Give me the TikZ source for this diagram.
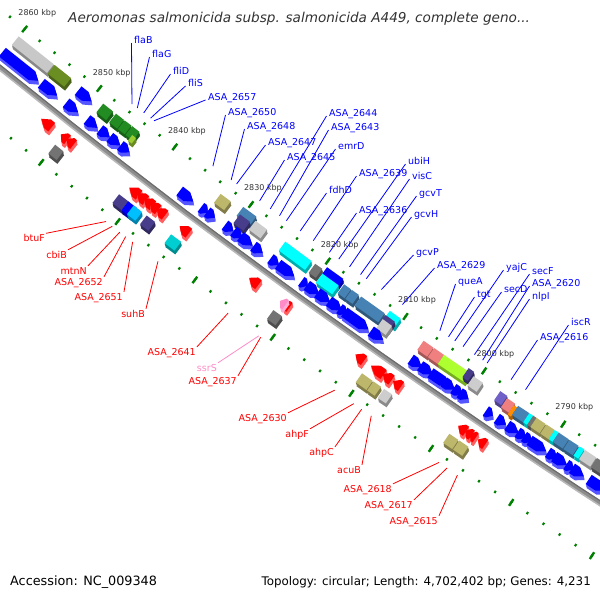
\documentclass[tikz,border=0pt]{standalone}
\usepackage{fontspec}
\setmainfont{DejaVu Sans}
\definecolor{fb}{RGB}{0,0,255}
\definecolor{fbs}{RGB}{85,85,255}
\definecolor{fr}{RGB}{255,0,0}
\definecolor{frs}{RGB}{255,95,95}
\definecolor{tk}{RGB}{0,128,0}
\definecolor{cgray}{RGB}{200,200,200}
\definecolor{colive}{RGB}{107,142,35}
\definecolor{cgreen}{RGB}{34,139,34}
\definecolor{cygreen}{RGB}{154,205,50}
\definecolor{ckhaki}{RGB}{189,183,107}
\definecolor{csteel}{RGB}{70,130,180}
\definecolor{cslate}{RGB}{72,61,139}
\definecolor{clgray}{RGB}{205,205,205}
\definecolor{ccyan}{RGB}{0,255,255}
\definecolor{cdgray}{RGB}{115,115,115}
\definecolor{ccoral}{RGB}{240,128,128}
\definecolor{cgy}{RGB}{173,255,47}
\definecolor{cmslate}{RGB}{112,96,200}
\definecolor{corange}{RGB}{255,140,0}
\definecolor{cdsky}{RGB}{0,191,255}
\definecolor{cdturq}{RGB}{0,206,209}
\definecolor{cpink}{RGB}{255,140,200}
\definecolor{txt}{RGB}{51,51,51}
\definecolor{bbc}{RGB}{140,140,140}
\newcommand\gAng[1]{(123.61+(#1-2790)*0.076557)}
\newcommand\gBox[5][5.5]{%
  \foreach \sh in {1.3,2.6,3.9}{%
    \fill[#5!68!black,shift={(0.2*\sh,\sh)}] ({\gAng{#2}}:{#4-#1}) -- ({\gAng{#3}}:{#4-#1}) -- ({\gAng{#3}}:{#4+#1}) -- ({\gAng{#2}}:{#4+#1}) -- cycle;}%
  \fill[#5] ({\gAng{#2}}:{#4-#1}) -- ({\gAng{#3}}:{#4-#1}) -- ({\gAng{#3}}:{#4+#1}) -- ({\gAng{#2}}:{#4+#1}) -- cycle;%
}
\newcommand\gArr[6][5.5]{%
  \pgfmathsetmacro\gAd{#3-(#2)}%
  \pgfmathsetmacro\gAt{min(0.85,0.6*abs(\gAd))*ifthenelse(\gAd>0,1,-1)}%
  \pgfmathsetmacro\gAk{#3-(\gAt)}%
  \foreach \sh in {1.3,2.6,3.9}{%
    \fill[#6,shift={(0.2*\sh,\sh)}] ({\gAng{#2}}:{#4-#1}) -- ({\gAng{\gAk}}:{#4-#1}) -- ({\gAng{#3}}:{#4}) -- ({\gAng{\gAk}}:{#4+#1}) -- ({\gAng{#2}}:{#4+#1}) -- cycle;}%
  \fill[#5] ({\gAng{#2}}:{#4-#1}) -- ({\gAng{\gAk}}:{#4-#1}) -- ({\gAng{#3}}:{#4}) -- ({\gAng{\gAk}}:{#4+#1}) -- ({\gAng{#2}}:{#4+#1}) -- cycle;%
}
\newcommand\bArr[2]{\gArr{#1}{#2}{7177}{fb}{fbs}}
\newcommand\rArr[2]{\gArr{#1}{#2}{7205}{fr}{frs}}
\tikzset{
  blt/.style={text=fb, font=\fontsize{9.5}{11}\selectfont, inner sep=1pt, text height=7pt, text depth=2pt},
  rdt/.style={text=fr, font=\fontsize{9.5}{11}\selectfont, inner sep=1pt, text height=7pt, text depth=2pt},
  pkt/.style={text=cpink, font=\fontsize{9.5}{11}\selectfont, inner sep=1pt, text height=7pt, text depth=2pt},
  bll/.style={draw=fb, line width=0.8pt},
  rdl/.style={draw=fr, line width=0.8pt},
  pkl/.style={draw=cpink, line width=0.8pt},
  kbp/.style={text=txt, font=\fontsize{8}{9}\selectfont, inner sep=0pt},
}
\begin{document}
\begin{tikzpicture}[x=1pt,y=-1pt]
\useasboundingbox (0,0) rectangle (600,600);
\fill[white] (0,0) rectangle (600,600);
\begin{scope}
\clip (0,0) rectangle (600,600);
\begin{scope}[shift={(4518,-5526)}]
% backbone
\draw[line width=5pt, bbc] ({\gAng{2870}}:7190.5) \foreach \q in {2865,2860,...,2770}{ -- ({\gAng{\q}}:7190.5)};
\draw[line width=1.6pt, black!28] ({\gAng{2870}}:7192.8) \foreach \q in {2865,2860,...,2770}{ -- ({\gAng{\q}}:7192.8)};
\draw[line width=1.1pt, black!58] ({\gAng{2870}}:7188.6) \foreach \q in {2865,2860,...,2770}{ -- ({\gAng{\q}}:7188.6)};
% tick rows
\foreach \q in {2776,2778,...,2866}{
  \draw[tk,line width=2.1pt] ({\gAng{\q}}:7143.7) -- ({\gAng{\q}}:7146.3);
  \draw[tk,line width=2.1pt] ({\gAng{\q}}:7237.7) -- ({\gAng{\q}}:7240.3);
}
\foreach \q in {2780,2790,...,2860}{
  \draw[tk,line width=2.4pt] ({\gAng{\q}}:7141) -- ({\gAng{\q}}:7149);
  \draw[tk,line width=2.4pt] ({\gAng{\q}}:7235) -- ({\gAng{\q}}:7243);
}
\foreach \q in {2790,2800,...,2860}{
  \node[kbp] (k\q) at ({\gAng{\q}}:7125) {\q\ kbp};
}
% inner boxes track
\gBox{2860.0}{2855.3}{7160}{cgray}
\gBox{2855.2}{2853.0}{7160}{colive}
\gArr{2851.6}{2849.8}{7160}{fb}{fbs}
\gBox{2848.7}{2847.4}{7160}{cgreen}
\gBox{2847.0}{2845.95}{7160}{cgreen}
\gBox{2845.85}{2844.95}{7160}{cgreen}
\gBox{2844.85}{2843.9}{7160}{cgreen}
\gBox[3.5]{2844.3}{2843.8}{7165}{cygreen}
\gBox{2833.2}{2831.9}{7160}{ckhaki}
\gBox{2830.5}{2828.8}{7157}{csteel}
\gBox{2830.3}{2829.0}{7165}{cslate}
\gBox{2828.6}{2827.1}{7161}{clgray}
\gBox{2824.8}{2821.4}{7160}{ccyan}
\gBox{2820.9}{2820.0}{7160}{cdgray}
\gBox{2819.7}{2817.6}{7156}{fb}
\gBox{2819.7}{2817.6}{7164}{ccyan}
\gBox{2817.2}{2816.3}{7160}{csteel}
\gBox{2816.2}{2815.3}{7160}{csteel}
\gBox{2815.0}{2812.0}{7160}{csteel}
\gBox{2811.7}{2810.3}{7155}{ccyan}
\gBox{2811.8}{2810.6}{7161}{cslate}
\gBox{2811.8}{2810.6}{7166}{clgray}
\gBox{2807.0}{2805.75}{7160}{ccoral}
\gBox{2805.65}{2804.4}{7160}{ccoral}
\gBox{2804.4}{2801.0}{7160}{cgy}
\gBox{2801.5}{2800.8}{7157}{cslate}
\gBox{2800.6}{2799.4}{7161}{clgray}
\gBox{2797.4}{2796.5}{7158}{cmslate}
\gBox{2796.4}{2795.4}{7160}{ccoral}
\gBox{2795.4}{2795.0}{7162}{corange}
\gBox{2795.0}{2793.6}{7160}{csteel}
\gBox{2793.6}{2793.1}{7160}{ccyan}
\gBox{2793.1}{2792.7}{7160}{cdgray}
\gBox{2792.7}{2791.55}{7160}{ckhaki}
\gBox{2791.45}{2790.4}{7160}{ckhaki}
\gBox{2790.4}{2789.9}{7160}{ccyan}
\gBox{2789.9}{2788.65}{7160}{csteel}
\gBox{2788.55}{2787.4}{7160}{csteel}
\gBox{2787.3}{2786.7}{7160}{ccyan}
\gBox{2786.6}{2785.2}{7160}{clgray}
\gBox{2785.1}{2783.5}{7160}{cdgray}
% inner arrows track
\bArr{2860.3}{2855.5}
\bArr{2855.1}{2853.0}
\bArr{2851.8}{2850.2}
\bArr{2849.0}{2847.6}
\bArr{2847.3}{2846.0}
\bArr{2846.0}{2844.6}
\bArr{2844.6}{2843.4}
\bArr{2836.8}{2835.0}
\bArr{2834.0}{2833.1}
\bArr{2833.2}{2832.2}
\bArr{2830.9}{2829.8}
\bArr{2829.8}{2828.65}
\bArr{2828.9}{2827.3}
\bArr{2827.2}{2826.0}
\bArr{2825.0}{2823.9}
\bArr{2824.0}{2821.9}
\bArr{2821.0}{2820.2}
\bArr{2820.3}{2818.7}
\bArr{2818.95}{2817.3}
\bArr{2817.45}{2815.8}
\bArr{2816.1}{2815.2}
\bArr{2815.5}{2812.4}
\bArr{2812.1}{2810.5}
\bArr{2807.0}{2805.6}
\bArr{2805.8}{2804.2}
\bArr{2804.5}{2802.1}
\bArr{2802.8}{2801.4}
\bArr{2801.6}{2800.4}
\bArr{2800.8}{2799.7}
\bArr{2797.5}{2796.6}
\bArr{2796.1}{2794.95}
\bArr{2794.8}{2793.35}
\bArr{2793.5}{2792.4}
\bArr{2792.7}{2791.7}
\bArr{2792.0}{2789.9}
\bArr{2789.7}{2788.5}
\bArr{2788.9}{2787.3}
\bArr{2787.4}{2786.5}
\bArr{2786.7}{2785.2}
\bArr{2784.6}{2782.5}
% outer arrows track
\rArr{2851.4}{2852.8}
\rArr{2849.3}{2850.2}
\rArr{2848.5}{2849.4}
\rArr{2839.9}{2841.2}
\rArr{2839.0}{2840.2}
\rArr{2838.1}{2839.3}
\rArr{2837.4}{2838.5}
\rArr{2836.5}{2837.6}
\rArr{2833.4}{2834.6}
\rArr{2824.4}{2825.6}
\rArr{2820.4}{2821.3}
\gArr{2820.9}{2821.6}{7205}{cpink}{cpink!70!white}
\rArr{2810.9}{2812.0}
\rArr{2808.4}{2810.0}
\rArr{2807.4}{2808.5}
\rArr{2806.2}{2807.2}
\rArr{2798.0}{2799.0}
\rArr{2797.3}{2798.1}
\rArr{2796.8}{2797.5}
\rArr{2795.6}{2796.5}
% outer boxes track
\gBox{2850.0}{2848.9}{7222}{cdgray}
\gBox{2841.6}{2840.2}{7222}{cslate}
\gBox{2840.4}{2839.3}{7222}{fb}
\gBox{2839.7}{2838.6}{7222}{cdsky}
\gBox{2838.0}{2836.9}{7222}{cslate}
\gBox{2834.8}{2833.5}{7222}{cdturq}
\gBox{2821.6}{2820.5}{7222}{cdgray}
\gBox{2810.3}{2808.95}{7222}{ckhaki}
\gBox{2808.85}{2807.9}{7222}{ckhaki}
\gBox{2807.5}{2806.5}{7222}{clgray}
\gBox{2799.3}{2798.15}{7222}{ckhaki}
\gBox{2798.05}{2796.9}{7222}{ckhaki}
\end{scope}
\end{scope}
% blue labels
\foreach \li/\lt/\lx/\ly/\lp in {
1/flaB/133/43/2846.3, 2/flaG/151/57/2845.6, 3/fliD/172/74/2844.75, 4/fliS/187/86/2843.85,
5/ASA\_2657/207/100/2843.4, 6/ASA\_2650/227/115/2835.6, 7/ASA\_2648/246/129/2833.2,
8/ASA\_2647/267/145/2832.5, 9/ASA\_2645/286/160/2829.5, 10/ASA\_2644/328/116/2828.1,
11/ASA\_2643/330/130/2826.9, 12/emrD/337/149/2826.0, 13/fdhD/328/193/2824.2,
14/ASA\_2639/358/176/2822.5, 15/ASA\_2636/358/213/2820.4, 16/ubiH/407/164/2819.2,
17/visC/411/179/2817.8, 18/gcvT/418/196/2816.4, 19/gcvH/413/217/2815.65,
20/gcvP/415/255/2813.7, 21/ASA\_2629/436/268/2811.0, 22/queA/457/284/2806.2,
23/tgt/476/297/2805.1, 24/yajC/505/270/2804.3, 25/secD/503/292/2803.25,
26/secF/531/274/2801.8, 27/ASA\_2620/531/286/2800.75, 28/nlpI/531/299/2800.2,
29/ASA\_2616/539/340/2797.15, 30/iscR/570/325/2795.3}{
  \begin{scope}[shift={(4518,-5526)}]\coordinate (be\li) at ({\gAng{\lp}}:7137);\end{scope}
  \node[blt, anchor=base west] (bl\li) at (\lx,\ly) {\lt};
  \draw[bll] ([xshift=-1.5pt]bl\li.base west) -- (be\li);
}
% red labels
\foreach \li/\lt/\lx/\ly/\lp in {
1/btuF/46/241.5/2840.96, 2/cbiB/68/258/2840.15, 3/mtnN/88/274/2839.16,
4/ASA\_2652/104/285/2838.4, 5/ASA\_2651/124/300/2837.5, 6/suhB/146/317/2834.2,
7/ASA\_2641/197/355/2825.2, 8/ASA\_2637/238/384/2821.0, 9/ASA\_2630/288/421/2811.6,
10/ahpF/310/437/2809.2, 11/ahpC/335/455/2808.2, 12/acuB/362/473/2807.0,
13/ASA\_2618/393/492/2798.5, 14/ASA\_2617/414/508/2797.5, 15/ASA\_2615/439/524/2796.2}{
  \begin{scope}[shift={(4518,-5526)}]\coordinate (re\li) at ({\gAng{\lp}}:7246);\end{scope}
  \node[rdt, anchor=base east] (rl\li) at (\lx,\ly) {\lt};
  \draw[rdl] (rl\li.north east) -- (re\li);
}
\begin{scope}[shift={(4518,-5526)}]\coordinate (pe1) at ({\gAng{2821.25}}:7246);\end{scope}
\node[pkt, anchor=base east] (pl1) at (218,371) {ssrS};
\draw[pkl] (pl1.north east) -- (pe1);
% title and footer
\node[anchor=base west, inner sep=0pt, text=txt, font=\itshape\fontsize{13.6}{16}\selectfont] (title) at (68,22.5) {Aeromonas salmonicida subsp. salmonicida A449, complete geno...};
\node[anchor=base west, inner sep=0pt, font=\fontsize{12.8}{14}\selectfont] (acc) at (10,585.5) {Accession: NC\_009348};
\node[anchor=base east, inner sep=0pt, font=\fontsize{11.85}{14}\selectfont] (topo) at (591,585.5) {Topology: circular; Length: 4,702,402 bp; Genes: 4,231};
\end{tikzpicture}
\end{document}
